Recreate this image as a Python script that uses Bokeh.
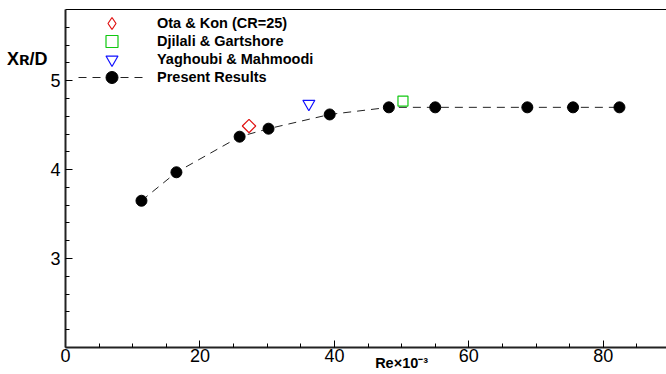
from bokeh.plotting import figure
from bokeh.models import (FixedTicker, LinearAxis, Legend, LegendItem, Range1d)
from bokeh.embed import file_html
from bokeh.resources import INLINE
import math

# ---- data ----
re_present = [11.3, 16.5, 25.9, 30.2, 39.3, 48.1, 55.0, 68.7, 75.5, 82.4]
xr_present = [3.65, 3.97, 4.37, 4.46, 4.62, 4.70, 4.70, 4.70, 4.70, 4.70]
re_ota = [27.3]
xr_ota = [4.49]
re_djilali = [50.2]
xr_djilali = [4.77]
re_yaghoubi = [36.2]
xr_yaghoubi = [4.74]

x_major = [0, 20, 40, 60, 80]
x_minor = [5, 10, 15, 25, 30, 35, 45, 50, 55, 65, 70, 75, 85]
y_major = [3, 4, 5]
y_minor = [2.2, 2.4, 2.6, 2.8, 3.2, 3.4, 3.6, 3.8, 4.2, 4.4, 4.6, 4.8, 5.2, 5.4, 5.6]

legend_labels = ["Ota & Kon (CR=25)", "Djilali & Gartshore", "Yaghoubi & Mahmoodi", "Present Results"]
x_title = "Re\u00d710\u207b\u00b3"
y_title = "X\u0280/D"

FONT = "Liberation Sans"

p = figure(width=666, height=374, x_range=Range1d(0, 89.4), y_range=Range1d(2, 5.8),
           output_backend="svg", toolbar_location=None,
           min_border_left=65, min_border_right=0, min_border_top=9, min_border_bottom=27)
p.extra_x_ranges = {"off": Range1d(1000, 1001)}
p.outline_line_color = None
p.xgrid.visible = False
p.ygrid.visible = False
p.background_fill_color = "white"
p.border_fill_color = "white"

for ax, major, minor, standoff in ((p.below[0], x_major, x_minor, 1), (p.left[0], y_major, y_minor, 5)):
    ax.ticker = FixedTicker(ticks=major, minor_ticks=minor)
    ax.major_tick_in = 7
    ax.major_tick_out = 0
    ax.minor_tick_in = 4
    ax.minor_tick_out = 0
    ax.major_tick_line_color = "black"
    ax.minor_tick_line_color = "black"
    ax.axis_line_color = "#222222"
    ax.axis_line_width = 2
    ax.major_label_text_font = FONT
    ax.major_label_text_font_size = "18px"
    ax.major_label_text_color = "black"
    ax.major_label_standoff = standoff

top = LinearAxis(ticker=FixedTicker(ticks=[]), major_label_text_font_size="0px",
                 major_tick_out=0, minor_tick_out=0, major_tick_in=0, minor_tick_in=0,
                 axis_line_color="black", axis_line_width=1)
p.add_layout(top, "above")

# axis titles, drawn as the single label of an extra, line-less axis
def title_axis(tick, text, size, standoff):
    return LinearAxis(ticker=FixedTicker(ticks=[tick], minor_ticks=[]),
                      major_label_overrides={tick: text},
                      axis_line_color=None, major_tick_line_color=None,
                      minor_tick_line_color=None, major_tick_in=0, major_tick_out=0,
                      minor_tick_in=0, minor_tick_out=0,
                      major_label_standoff=standoff, major_label_text_font=FONT,
                      major_label_text_font_style="bold", major_label_text_font_size=size,
                      major_label_text_color="black")

p.add_layout(title_axis(5.24, y_title, "18px", 0), "left")
p.add_layout(title_axis(50, x_title, "14.5px", -10), "below")

# ---- glyphs ----
line_r = p.line(re_present, xr_present, line_color="#222222", line_width=1, line_dash="8 6")
pres_r = p.scatter(re_present, xr_present, marker="circle", size=11,
                   fill_color="black", line_color="black")
ota_r = p.scatter(re_ota, xr_ota, marker="square", angle=math.pi / 4, size=9.5,
                  fill_color=None, line_color="#e01010", line_width=1.2)
# same point on an off-screen range: only used for the legend's diamond symbol
ota_leg = p.scatter(re_ota, xr_ota, marker="diamond", size=14, x_range_name="off",
                    fill_color=None, line_color="#e01010", line_width=1.2)
dj_r = p.scatter(re_djilali, xr_djilali, marker="square", size=10,
                 fill_color=None, line_color="#10c810", line_width=1.2)
yag_r = p.scatter(re_yaghoubi, xr_yaghoubi, marker="inverted_triangle", size=12,
                  fill_color=None, line_color="#1010ff", line_width=1.2)

rows = [[ota_leg], [dj_r], [yag_r], [line_r, pres_r]]
for i, (lbl, rends) in enumerate(zip(legend_labels, rows)):
    lg = Legend(items=[LegendItem(label=lbl, renderers=rends)],
                location=(13, 309 - 18 * i), glyph_width=67, glyph_height=30,
                label_height=30, spacing=0, padding=0, margin=0,
                border_line_color=None, background_fill_alpha=0,
                label_standoff=12, label_text_font=FONT, label_text_font_style="bold",
                label_text_font_size="14.5px", label_text_color="black")
    p.add_layout(lg, "center")

open("out.html", "w").write(file_html(p, INLINE))
